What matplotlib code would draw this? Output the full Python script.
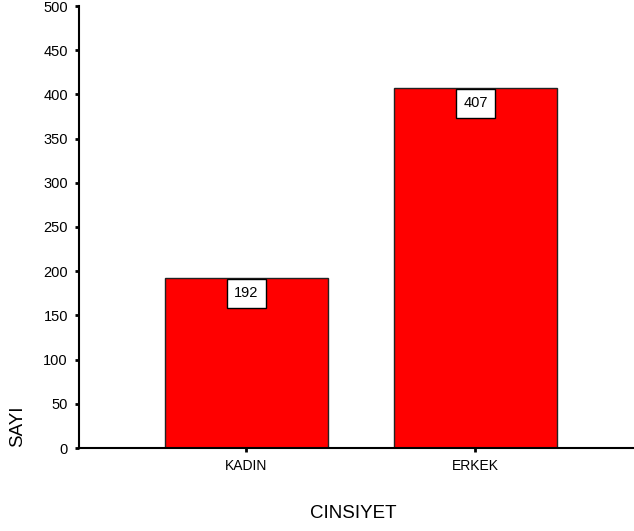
import matplotlib
matplotlib.use("Agg")
import matplotlib.pyplot as plt

# Data
categories = ['KADIN', 'ERKEK']
counts = [192, 407]
y_ticks = [0, 50, 100, 150, 200, 250, 300, 350, 400, 450, 500]

plt.rcParams['font.family'] = ['Liberation Sans', 'DejaVu Sans']

fig = plt.figure(figsize=(6.34, 5.31), dpi=100)
ax = fig.add_axes([79 / 634, 83 / 531, 1 - 79 / 634, 442 / 531])

x = list(range(len(categories)))
bars = ax.bar(x, counts, width=0.712, color='#ff0000', edgecolor='#222222', linewidth=1.0)

# value boxes at top of each bar
for xi, val in zip(x, counts):
    ax.annotate(str(val), (xi, val), xytext=(0, -15), textcoords='offset pixels',
                ha='center', va='center', fontsize=10.5,
                bbox=dict(boxstyle='square,pad=0.5', fc='white', ec='black', lw=1.0))

ax.set_xlim(-0.731, 1.692)
ax.set_ylim(0, 500)
ax.set_yticks(y_ticks)
ax.set_xticks(x)
ax.set_xticklabels(categories, fontsize=10, family=['Liberation Sans Narrow', 'Liberation Sans'])
ax.tick_params(axis='y', direction='out', length=3, width=2, labelsize=10.5, pad=5)
ax.tick_params(axis='x', direction='out', length=3, width=2, pad=5)

for s in ['top', 'right']:
    ax.spines[s].set_visible(False)
for s in ['left', 'bottom']:
    ax.spines[s].set_linewidth(1.5)

fig.text(18 / 634, 1 - 426 / 531, 'SAYI', rotation=90, ha='center', va='center', fontsize=13.5)
fig.text(353 / 634, 1 - 513 / 531, 'CINSIYET', ha='center', va='center', fontsize=13.5)

fig.savefig('out.png', dpi=100)
